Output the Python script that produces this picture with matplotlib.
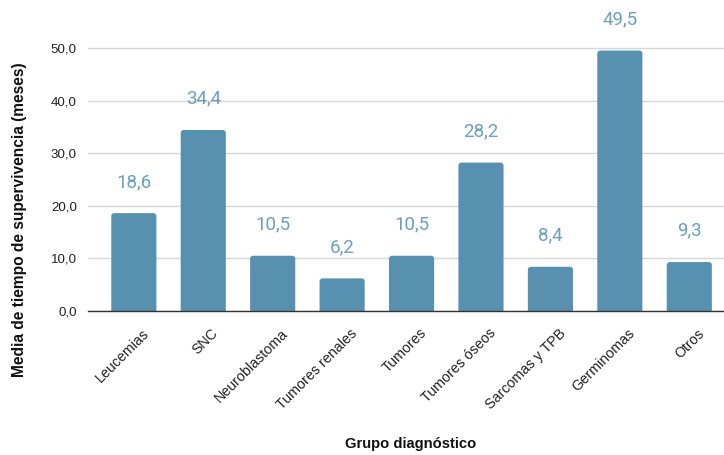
import matplotlib
matplotlib.use("Agg")
import matplotlib.pyplot as plt
import matplotlib.transforms as mtransforms
from matplotlib.patches import FancyBboxPatch
from matplotlib.ticker import FuncFormatter

categories = ["Leucemias", "SNC", "Neuroblastoma", "Tumores renales", "Tumores",
              "Tumores óseos", "Sarcomas y TPB", "Germinomas", "Otros"]
values = [18.6, 34.4, 10.5, 6.2, 10.5, 28.2, 8.4, 49.5, 9.3]
y_ticks = [0, 10, 20, 30, 40, 50]

bar_color = "#5891b0"
label_color = "#6a9fc0"

fig = plt.figure(figsize=(7.24, 4.55), dpi=100)
ax = fig.add_axes([88 / 724, 1 - 311 / 455, (724 - 88) / 724, (311 - 10) / 455])
ax.set_xlim(-0.66, 8.5)
ax.set_ylim(0, 57.2)

x = list(range(len(categories)))
bars = ax.bar(x, values, width=0.65, color=bar_color, zorder=3)

# soften the bar corners: replace each rectangle with a rounded box of the same size
fig.canvas.draw()
px_x = ax.transData.transform((1, 0))[0] - ax.transData.transform((0, 0))[0]
px_y = ax.transData.transform((0, 1))[1] - ax.transData.transform((0, 0))[1]
for rect in bars:
    x0, w, h = rect.get_x(), rect.get_width(), rect.get_height()
    rect.set_visible(False)
    ax.add_patch(FancyBboxPatch((x0, -1), w, h + 1,
                                boxstyle=f"round,pad=0,rounding_size={3 / px_x}",
                                mutation_aspect=px_x / px_y,
                                facecolor=bar_color, edgecolor="none", zorder=3))

for xi, v in zip(x, values):
    ax.annotate(f"{v:.1f}".replace(".", ","), (xi, v), xytext=(0, 16),
                textcoords="offset points", ha="center", va="bottom",
                color=label_color, fontsize=13.5, family="Roboto")

ax.tick_params(axis="both", length=0)
ax.tick_params(axis="x", pad=8)
ax.tick_params(axis="y", pad=8)

ax.set_yticks(y_ticks)
ax.yaxis.set_major_formatter(FuncFormatter(lambda v, p: f"{v:.1f}".replace(".", ",")))
ax.set_xticks(x)
ax.set_xticklabels(categories, rotation=45, ha="right", rotation_mode="anchor",
                   family="Liberation Sans", fontsize=10.3, color="#222222")
shift = mtransforms.ScaledTranslation(8 / 100, -4 / 100, fig.dpi_scale_trans)
for lbl in ax.get_xticklabels():
    lbl.set_transform(lbl.get_transform() + shift)
for lbl in ax.get_yticklabels():
    lbl.set_family("Liberation Sans")
    lbl.set_fontsize(9.6)
    lbl.set_color("#222222")

ax.grid(axis="y", color="#d6d6d6", linewidth=1, zorder=0)
for s in ["top", "right", "left"]:
    ax.spines[s].set_visible(False)
ax.spines["bottom"].set_color("#333333")
ax.spines["bottom"].set_linewidth(1)
ax.spines["bottom"].set_zorder(4)

fig.text(20 / 724, 1 - 220 / 455, "Media de tiempo de supervivencia (meses)",
         rotation=90, ha="center", va="center", fontsize=11.2, fontweight="bold",
         family="Liberation Sans", color="#111111")
fig.text(411 / 724, 1 - 444 / 455, "Grupo diagnóstico", ha="center", va="center",
         fontsize=10.6, fontweight="bold", family="Liberation Sans", color="#111111")

fig.savefig("out.png", dpi=100)
